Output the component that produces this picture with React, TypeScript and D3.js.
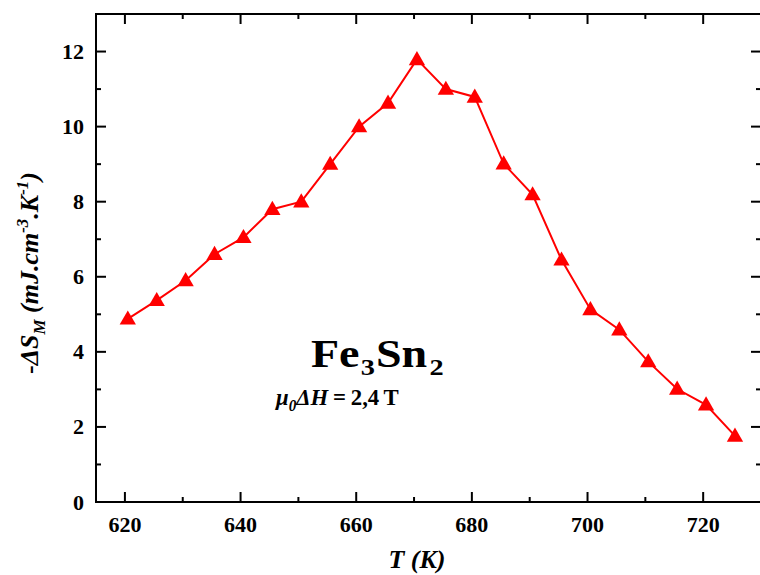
import React from "react";
import * as d3 from "d3";

const temperatures = [620.5, 625.5, 630.5, 635.5, 640.5, 645.5, 650.5, 655.5, 660.5, 665.5, 670.5, 675.5, 680.5, 685.5, 690.5, 695.5, 700.5, 705.5, 710.5, 715.5, 720.5, 725.5];
const entropy = [4.88, 5.37, 5.9, 6.6, 7.05, 7.8, 8.0, 9.0, 10.0, 10.63, 11.79, 11.0, 10.79, 9.01, 8.19, 6.45, 5.13, 4.59, 3.74, 3.01, 2.59, 1.76];
const xMajorTicks = [620, 640, 660, 680, 700, 720];
const xMinorTicks = [630, 650, 670, 690, 710, 730];
const yMajorTicks = [0, 2, 4, 6, 8, 10, 12];
const yMinorTicks = [1, 3, 5, 7, 9, 11, 13];

const W = 760;
const H = 575;
const left = 96, right = 761, top = 14, bottom = 502;
const FONT = "'Liberation Serif', 'Times New Roman', serif";
const RED = "#ff0000";

export default function App() {
  const x = d3.scaleLinear().domain([615, 730]).range([left, right]);
  const y = d3.scaleLinear().domain([0, 13]).range([bottom, top]);
  const pts = temperatures.map((t, i) => [x(t), y(entropy[i])] as [number, number]);
  const line = d3.line()(pts) || "";
  const tri = d3.symbol().type(d3.symbolTriangle).size(115)() || "";

  return (
    <svg width={W} height={H} style={{ position: "absolute", left: 0, top: 0, background: "#fff" }} fontFamily={FONT}>
      <rect x={0} y={0} width={W} height={H} fill="#fff" />
      {/* frame */}
      <rect x={left} y={top} width={right - left} height={bottom - top} fill="none" stroke="#000" strokeWidth={2} />
      {/* x ticks */}
      {xMajorTicks.map((t) => (
        <g key={"xM" + t}>
          <line x1={x(t)} x2={x(t)} y1={bottom} y2={bottom - 10} stroke="#000" strokeWidth={2} />
          <line x1={x(t)} x2={x(t)} y1={top} y2={top + 10} stroke="#000" strokeWidth={2} />
          <text x={x(t)} y={532} textAnchor="middle" fontSize={22} fontWeight="bold">{t}</text>
        </g>
      ))}
      {xMinorTicks.map((t) => (
        <g key={"xm" + t}>
          <line x1={x(t)} x2={x(t)} y1={bottom} y2={bottom - 5} stroke="#000" strokeWidth={2} />
          <line x1={x(t)} x2={x(t)} y1={top} y2={top + 5} stroke="#000" strokeWidth={2} />
        </g>
      ))}
      {/* y ticks */}
      {yMajorTicks.map((t) => (
        <g key={"yM" + t}>
          <line x1={left} x2={left + 10} y1={y(t)} y2={y(t)} stroke="#000" strokeWidth={2} />
          <line x1={right} x2={right - 10} y1={y(t)} y2={y(t)} stroke="#000" strokeWidth={2} />
          <text x={84} y={y(t) + 7.5} textAnchor="end" fontSize={22} fontWeight="bold">{t}</text>
        </g>
      ))}
      {yMinorTicks.map((t) => (
        <g key={"ym" + t}>
          <line x1={left} x2={left + 5} y1={y(t)} y2={y(t)} stroke="#000" strokeWidth={2} />
          <line x1={right} x2={right - 5} y1={y(t)} y2={y(t)} stroke="#000" strokeWidth={2} />
        </g>
      ))}
      {/* axis titles */}
      <text x={417} y={568} textAnchor="middle" fontSize={26} fontWeight="bold" fontStyle="italic">T (K)</text>
      <text transform={`translate(38, 273) rotate(-90)`} textAnchor="middle" fontSize={26} fontWeight="bold" fontStyle="italic">
        <tspan fontStyle="normal">-</tspan>
        <tspan>ΔS</tspan>
        <tspan fontSize={17} dy={7}>M</tspan>
        <tspan dy={-7}> (mJ.cm</tspan>
        <tspan fontSize={17} dy={-10}>-3</tspan>
        <tspan dy={10}>.K</tspan>
        <tspan fontSize={17} dy={-10}>-1</tspan>
        <tspan dy={10}>)</tspan>
      </text>
      {/* data */}
      <path d={line} fill="none" stroke={RED} strokeWidth={2} />
      {pts.map((p, i) => (
        <path key={i} d={tri} transform={`translate(${p[0]},${p[1] + 1})`} fill={RED} />
      ))}
      {/* annotations */}
      <text transform="translate(311,367) scale(1.18,1)" fontSize={39} fontWeight="bold">
        <tspan>Fe</tspan>
        <tspan fontSize={24} dy={8} dx={1}>3</tspan>
        <tspan dy={-8} dx={1}>Sn</tspan>
        <tspan fontSize={24} dy={8} dx={2}>2</tspan>
      </text>
      <text transform="translate(276,405) scale(0.95,1)" fontSize={24} fontWeight="bold" wordSpacing={-1}>
        <tspan fontStyle="italic">μ</tspan>
        <tspan fontStyle="italic" fontSize={16} dy={6}>0</tspan>
        <tspan fontStyle="italic" dy={-6}>ΔH</tspan>
        <tspan> = 2,4 T</tspan>
      </text>
    </svg>
  );
}
